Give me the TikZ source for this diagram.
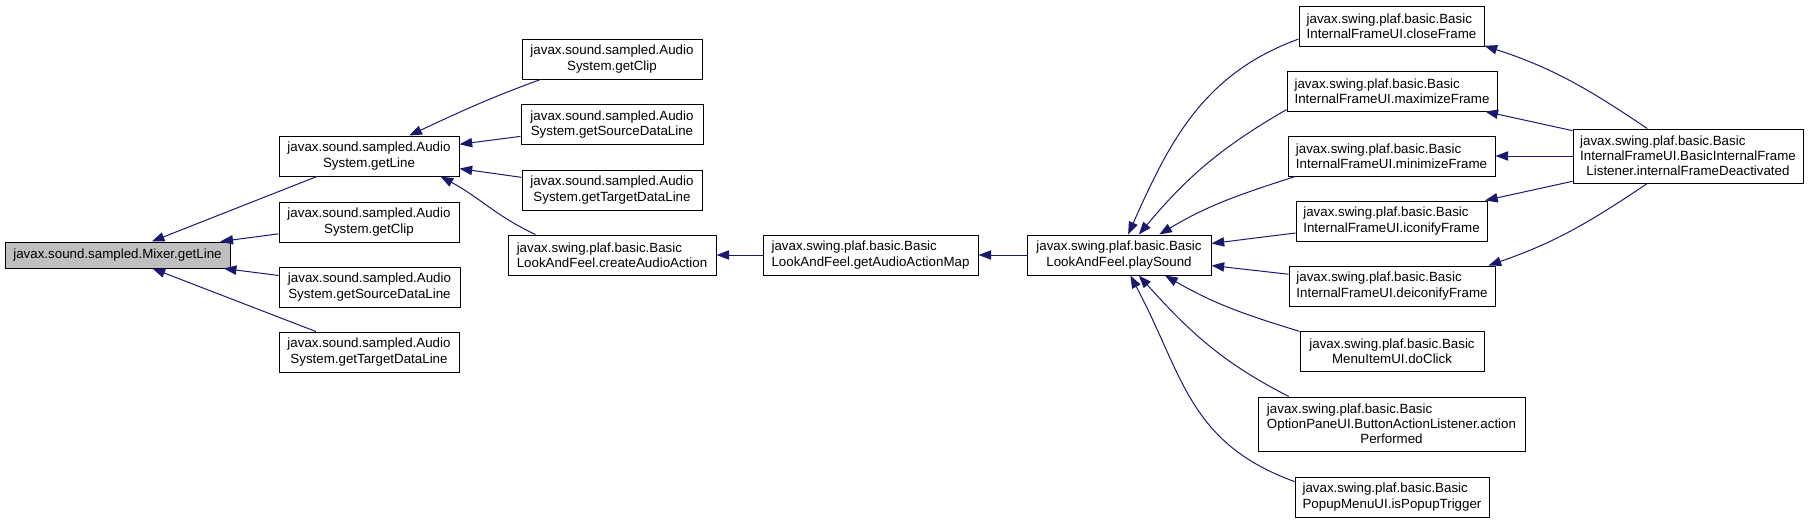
\documentclass[tikz,border=0pt]{standalone}
\usepackage{fontspec}
\setmainfont{Liberation Sans}
\usetikzlibrary{arrows.meta}
\definecolor{edgeblue}{HTML}{191970}
\definecolor{hlgray}{HTML}{BFBFBF}
\newcommand{\leftpad}[2]{\rlap{#1}\phantom{#2}}
\tikzset{
  every node/.style={
    font=\fontsize{10}{11.4}\selectfont
  },
  fn/.style={
    draw=black,
    fill=white,
    line width=0.75pt,
    inner sep=0pt,
    align=center,
    minimum height=30pt
  },
  fnhl/.style={
    fn,
    fill=hlgray,
    minimum height=19.5pt
  },
  call/.style={
    edgeblue,
    line width=0.75pt,
    -{Triangle[length=9.5pt,width=7pt]}
  }
}

\begin{document}
\begin{tikzpicture}[x=0.75pt,y=0.75pt]
    \useasboundingbox (0,0) rectangle (1808,-525);

    % ノード
    \node[fnhl, minimum width=168.75pt] (mixer) at (117.5,-255) {javax.sound.sampled.Mixer.getLine};
    \node[fn, minimum width=135pt] (asline) at (369,-156) {javax.sound.sampled.Audio\\System.getLine};
    \node[fn, minimum width=135pt] (asclip) at (369,-222) {javax.sound.sampled.Audio\\System.getClip};
    \node[fn, minimum width=135.75pt] (assource) at (369.5,-287) {javax.sound.sampled.Audio\\System.getSourceDataLine};
    \node[fn, minimum width=135pt] (astarget) at (369,-352) {javax.sound.sampled.Audio\\System.getTargetDataLine};

    \node[fn, minimum width=135pt] (clip) at (612,-59) {javax.sound.sampled.Audio\\System.getClip};
    \node[fn, minimum width=136.5pt] (source) at (612,-124.5) {javax.sound.sampled.Audio\\System.getSourceDataLine};
    \node[fn, minimum width=135pt] (target) at (612,-190) {javax.sound.sampled.Audio\\System.getTargetDataLine};
    \node[fn, align=left, minimum width=156pt] (create) at (612,-255) {javax.swing.plaf.basic.Basic\\LookAndFeel.createAudioAction};

    \node[fn, align=left, minimum width=161.25pt] (actionmap) at (870.5,-255) {javax.swing.plaf.basic.Basic\\LookAndFeel.getAudioActionMap};
    \node[fn, minimum width=138pt] (play) at (1119,-255) {javax.swing.plaf.basic.Basic\\LookAndFeel.playSound};

    \node[fn, align=left, minimum width=138.75pt] (close) at (1391.5,-26) {javax.swing.plaf.basic.Basic\\InternalFrameUI.closeFrame};
    \node[fn, align=left, minimum width=157.5pt] (maximize) at (1392,-91) {javax.swing.plaf.basic.Basic\\InternalFrameUI.maximizeFrame};
    \node[fn, align=left, minimum width=155.25pt] (minimize) at (1391.5,-156) {javax.swing.plaf.basic.Basic\\InternalFrameUI.minimizeFrame};
    \node[fn, align=left, minimum width=143.25pt] (iconify) at (1391.5,-221) {javax.swing.plaf.basic.Basic\\InternalFrameUI.iconifyFrame};
    \node[fn, align=left, minimum width=154.5pt] (deiconify) at (1392,-286) {javax.swing.plaf.basic.Basic\\InternalFrameUI.deiconifyFrame};
    \node[fn, minimum width=138pt] (doclick) at (1392,-351) {javax.swing.plaf.basic.Basic\\MenuItemUI.doClick};
    \node[fn, minimum width=200.25pt, minimum height=40.5pt] (optionpane) at (1391.5,-424)
        {\leftpad{javax.swing.plaf.basic.Basic}{OptionPaneUI.ButtonActionListener.action}\\OptionPaneUI.ButtonActionListener.action\\Performed};
    \node[fn, align=left, minimum width=145.5pt] (popup) at (1392,-497) {javax.swing.plaf.basic.Basic\\PopupMenuUI.isPopupTrigger};

    \node[fn, minimum width=172.5pt, minimum height=40.5pt] (deactivated) at (1688,-156)
        {\leftpad{javax.swing.plaf.basic.Basic}{InternalFrameUI.BasicInternalFrame}\\InternalFrameUI.BasicInternalFrame\\Listener.internalFrameDeactivated};

    % 呼び出し関係
    \draw[call] (asline) -- (mixer);
    \draw[call] (asclip) -- (mixer);
    \draw[call] (assource) -- (mixer);
    \draw[call] (astarget) -- (mixer);

    \draw[call] (clip.196) to[out=200,in=25] (asline.27);
    \draw[call] (source) -- (asline);
    \draw[call] (target) -- (asline);
    \draw[call] (create.165) to[out=155,in=-28] (asline.344);

    \draw[call] (actionmap) -- (create);
    \draw[call] (play) -- (actionmap);

    \draw[call] (close.188) to[out=200,in=66] (play.66);
    \draw[call] (maximize.190) to[out=210,in=50] (play.46);
    \draw[call] (minimize.192) to[out=198,in=31] (play.27);
    \draw[call] (iconify) -- (play);
    \draw[call] (deiconify) -- (play);
    \draw[call] (doclick.168) to[out=163,in=-30] (play.336);
    \draw[call] (optionpane.165) to[out=153,in=-48] (play.314);
    \draw[call] (popup.171) to[out=160,in=-62,looseness=1.1] (play.299);

    \draw[call] (deactivated.146) to[out=146,in=-18] (close.348);
    \draw[call] (deactivated) -- (maximize);
    \draw[call] (deactivated) -- (minimize);
    \draw[call] (deactivated) -- (iconify);
    \draw[call] (deactivated.214) to[out=214,in=19] (deiconify.12);
\end{tikzpicture}
\end{document}
